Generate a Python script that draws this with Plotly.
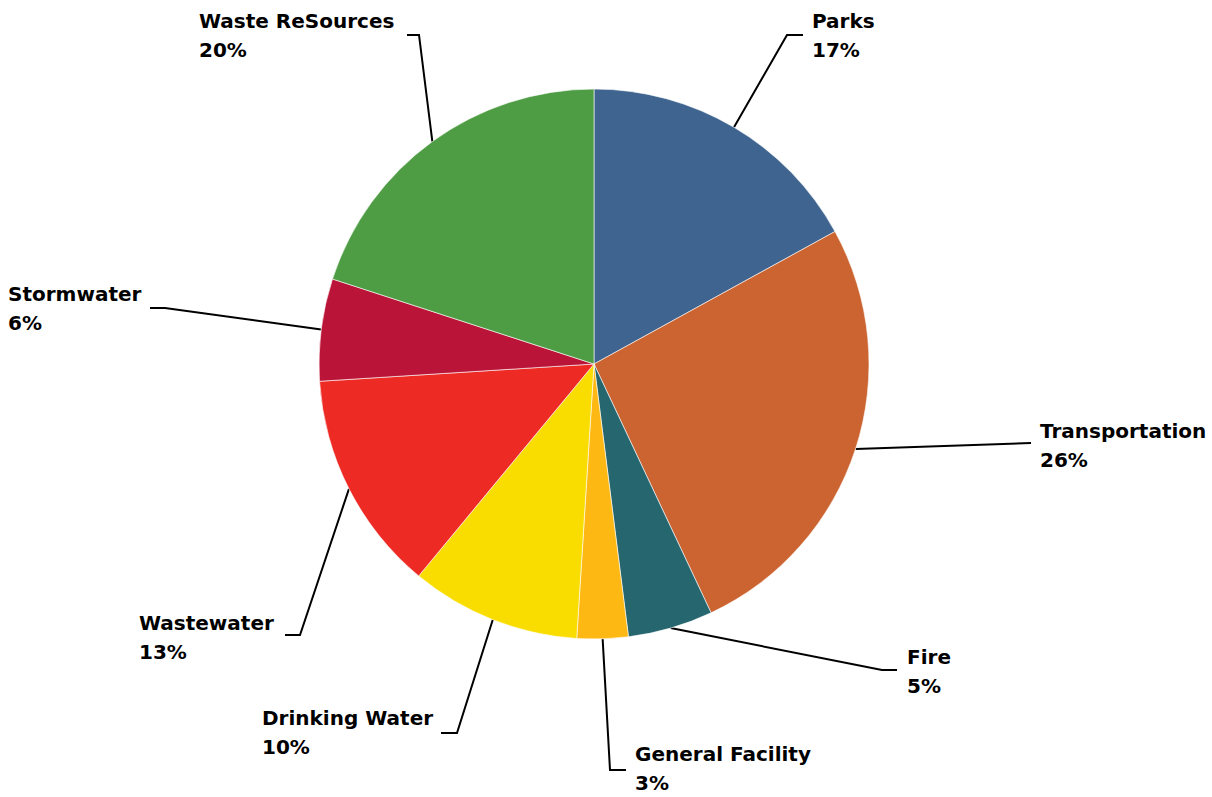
import math
import plotly.graph_objects as go

# Capital program share by department
departments = ["Parks", "Transportation", "Fire", "General Facility",
               "Drinking Water", "Wastewater", "Stormwater", "Waste ReSources"]
shares = [17, 26, 5, 3, 10, 13, 6, 20]
colors = ["#3E648F", "#CB6430", "#26666F", "#FDB813",
          "#FADD00", "#EE2A24", "#BA1538", "#4E9C43"]

W, H = 1212, 797

# Pie placement in pixels (center and radius)
CX, CY, R = 594, 364, 275
dom_x = [(CX - R) / W, (CX + R) / W]
dom_y = [(H - CY - R) / H, (H - CY + R) / H]

# Label block layout: (text left x, first-line y, elbow point, end point) in pixels
label_layout = {
    "Parks":            dict(tx=811, ty=21, elbow=(787, 35), end=(803, 35)),
    "Transportation":   dict(tx=1039, ty=431, elbow=(1013, 443), end=(1031, 443)),
    "Fire":             dict(tx=906, ty=657, elbow=(882, 670), end=(897, 670)),
    "General Facility": dict(tx=634, ty=754, elbow=(610, 770), end=(626, 770)),
    "Drinking Water":   dict(tx=261, ty=718, elbow=(457, 733), end=(441, 733)),
    "Wastewater":       dict(tx=138, ty=623, elbow=(300, 635), end=(285, 635)),
    "Stormwater":       dict(tx=7, ty=294, elbow=(165, 308), end=(150, 308)),
    "Waste ReSources":  dict(tx=198, ty=21, elbow=(419, 35), end=(407, 35)),
}
LINE_GAP = 29
FONT = dict(family="DejaVu Sans", size=20, color="#000000")

fig = go.Figure()

fig.add_trace(go.Pie(
    labels=departments,
    values=shares,
    marker=dict(colors=colors, line=dict(color="#FFFFFF", width=0.6)),
    sort=False,
    direction="clockwise",
    rotation=0,
    textinfo="none",
    hoverinfo="label+percent",
    showlegend=False,
    domain=dict(x=dom_x, y=dom_y),
))

total = sum(shares)
cum = 0.0
annotations = []
for name, val in zip(departments, shares):
    mid = 2 * math.pi * (cum + val / 2) / total
    cum += val
    sx = CX + R * math.sin(mid)
    sy = CY - R * math.cos(mid)
    lay = label_layout[name]
    ex, ey = lay["elbow"]
    fx, fy = lay["end"]
    fig.add_trace(go.Scatter(
        x=[sx, ex, fx], y=[sy, ey, fy],
        mode="lines", line=dict(color="#000000", width=2),
        hoverinfo="skip", showlegend=False,
    ))
    pct = f"{round(100 * val / total)}%"
    for i, txt in enumerate([name, pct]):
        annotations.append(dict(
            x=lay["tx"], y=lay["ty"] + i * LINE_GAP,
            xref="x", yref="y", text=f"<b>{txt}</b>",
            showarrow=False, xanchor="left", yanchor="middle",
            borderpad=0, font=FONT,
        ))

fig.update_layout(
    width=W, height=H,
    margin=dict(l=0, r=0, t=0, b=0),
    paper_bgcolor="#FFFFFF",
    plot_bgcolor="rgba(0,0,0,0)",
    xaxis=dict(range=[0, W], visible=False, fixedrange=True, domain=[0, 1]),
    yaxis=dict(range=[H, 0], visible=False, fixedrange=True, domain=[0, 1]),
    annotations=annotations,
    showlegend=False,
)

fig.write_html("out.html")
